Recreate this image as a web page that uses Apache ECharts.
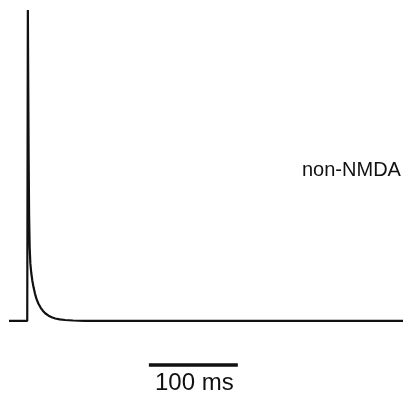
<!DOCTYPE html>
<html>
<head>
<meta charset="utf-8">
<script src="https://cdn.jsdelivr.net/npm/echarts@6/dist/echarts.min.js"></script>
<style>
  html, body { margin: 0; padding: 0; background: #fff; }
  #chart { width: 404px; height: 399px; }
</style>
</head>
<body>
<div id="chart"></div>
<script>
// Synaptic current trace (non-NMDA component), time in ms, amplitude in % of peak
const timeMs = [0, 20.5, 21.2, 21.6, 22.1, 22.6, 23.2, 24.0, 25.0, 26.2, 27.6, 29.2, 31.0, 33.0, 35.5, 38.0, 41.0, 44.5, 48.0, 52.0, 57.0, 63.0, 72.0, 85.0, 100.0, 443.0];
const currentValues = [0, 0, 100, 78, 52, 34, 24, 18.5, 15.5, 13, 10.8, 8.8, 7.0, 5.6, 4.3, 3.3, 2.4, 1.7, 1.2, 0.8, 0.5, 0.3, 0.15, 0.05, 0, 0];

// Time calibration bar
const scaleBarMs = [157.3, 257.3];
const scaleBarLevel = -14.2;
const scaleBarLabel = '100 ms';
const traceLabel = 'non-NMDA';

const chart = echarts.init(document.getElementById('chart'));
const traceData = timeMs.map((t, i) => [t, currentValues[i]]);
const barData = scaleBarMs.map(t => [t, scaleBarLevel]);

chart.setOption({
  animation: false,
  grid: { left: 9, right: 1, top: 10, bottom: 14 },
  xAxis: { type: 'value', min: 0, max: 443, show: false },
  yAxis: { type: 'value', min: -20.6, max: 100, show: false },
  series: [
    {
      type: 'line', data: traceData, symbol: 'none', clip: false,
      lineStyle: { color: '#111', width: 2.2 }
    },
    {
      type: 'line', data: barData, symbol: 'none', clip: false,
      lineStyle: { color: '#111', width: 3.5, cap: 'butt' }
    }
  ]
});

// Text labels placed relative to the axes' own scales
const barMid = chart.convertToPixel({ gridIndex: 0 }, [(scaleBarMs[0] + scaleBarMs[1]) / 2, scaleBarLevel]);
chart.setOption({
  graphic: [
    {
      type: 'text', x: 302, y: 160,
      style: { text: traceLabel, fill: '#111', font: '20px "Liberation Sans", Arial, sans-serif' }
    },
    {
      type: 'text', x: barMid[0] + 1, y: barMid[1] + 6,
      style: { text: scaleBarLabel, fill: '#111', align: 'center', font: '24px "Liberation Sans", Arial, sans-serif' }
    }
  ]
});
</script>
</body>
</html>
